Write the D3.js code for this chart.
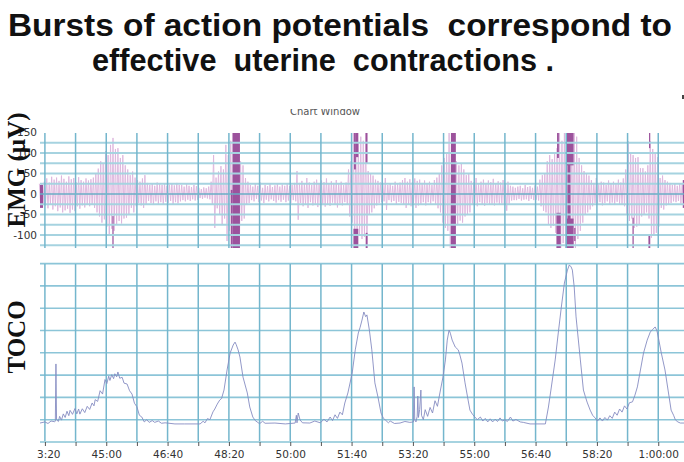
<!DOCTYPE html>
<html><head><meta charset="utf-8">
<script src="https://cdn.jsdelivr.net/npm/d3@7"></script>
<style>
html,body{margin:0;padding:0;background:#fff;}
svg{display:block;}
</style></head><body>
<svg id="c" width="684" height="462"></svg>
<script>
// ---------- DATA ----------
const titleLines = ["Bursts of action potentials  correspond to", "effective  uterine  contractions ."];
const panelLabels = ["EMG (\u00b5V)", "TOCO"];
const subTitle = "Chart Window";
const timeDomain = [2592, 3642];           // seconds
const xLabelSeconds = [2600, 2700, 2800, 2900, 3000, 3100, 3200, 3300, 3400, 3500, 3600];
const xGridSeconds = [2600, 2650, 2700, 2750, 2800, 2850, 2900, 2950, 3000, 3050, 3100, 3150, 3200, 3250, 3300, 3350, 3400, 3450, 3500, 3550, 3600];
const emgDomain = [-132, 149];
const emgTickValues = [150, 100, 50, 0, -50, -100];
const emgGridValues = [-125, -100, -75, -50, -25, 0, 25, 50, 75, 100, 125];
const tocoDomain = [0, 80];
const tocoGridValues = [10, 20, 30, 40, 50, 60, 70, 80];

// EMG envelope samples (uV), one every 4 s starting at 2592 s
const emgStart = 2592, emgStep = 4;
const emgHi = [
25,25,
30,38,28,42,35,40,32,45,37,30,43,36,39,28,41,34,30,38,33,36,40,
50,62,80,75,
105,95,120,137,110,
112,88,95,70,
60,46,55,40,
34,30,38,46,
27,22,25,20,28,24,22,26,20,23,25,21,27,22,
22,18,24,20,17,22,19,
15,12,16,14,18,
30,95,40,55,68,60,
120,95,130,
150,150,150,
80,70,
39,30,
22,18,25,20,28,15,22,19,24,17,21,26,18,23,20,25,19,22,27,
56,
27,32,24,39,28,22,30,35,26,33,29,38,25,31,27,34,24,30,22,28,
60,80,
150,130,125,140,130,150,
56,50,45,35,
32,28,25,39,
22,26,20,30,24,28,34,
39,30,36,28,38,32,35,27,33,
25,30,22,34,40,50,
70,88,100,
150,150,150,
80,70,75,60,46,50,
32,28,39,25,30,35,27,33,29,37,26,31,28,34,25,30,20,18,
15,18,20,14,22,17,19,15,21,18,
35,46,50,
80,95,85,100,
112,150,130,150,
150,150,150,150,140,
88,70,
56,50,45,34,
27,39,24,30,28,22,33,26,30,24,35,28,38,
60,129,100,
95,88,90,63,
63,55,70,
129,110,100,90,
39,45,34,30,
27,22,25,20,26,24
];
const emgLo = [
-25,-25,
-28,-35,-25,-38,-30,-42,-33,-45,-40,-36,-46,-38,-42,-30,-36,-28,-33,-25,-30,-27,-34,
-45,-55,-70,-62,
-80,-100,-85,-90,-75,
-66,-72,-60,-58,
-50,-34,-45,-30,
-22,-28,-34,-25,
-17,-22,-27,-18,-24,-20,-26,-19,-22,-17,-25,-20,-23,-18,
-15,-18,-14,-17,-13,-16,-14,
-10,-12,-9,-11,-13,
-25,-83,-35,-50,-76,-60,
-115,-90,-125,
-135,-135,-135,
-66,-60,
-27,-22,
-15,-18,-12,-20,-16,-22,-14,-18,-13,-17,-21,-15,-19,-14,-20,-16,-23,-15,-18,
-63,
-22,-30,-25,-34,-20,-28,-24,-32,-22,-27,-31,-25,-29,-21,-26,-33,-23,-28,-20,-25,
-55,-70,
-135,-107,-100,-110,-105,-135,
-51,-45,-35,-28,
-22,-20,-18,-39,
-15,-20,-17,-24,-19,-22,-27,
-34,-25,-30,-22,-34,-28,-26,-20,-28,
-20,-24,-18,-27,-35,-45,
-70,-83,-90,
-135,-135,-135,
-76,-65,-70,-55,-51,-45,
-27,-22,-30,-20,-25,-29,-22,-26,-24,-28,-21,-27,-23,-26,-41,-24,-16,-15,
-15,-12,-16,-14,-13,-17,-12,-15,-14,-16,
-30,-41,-45,
-75,-83,-78,-95,
-127,-135,-120,-135,
-135,-135,-135,-135,-110,
-90,-70,
-51,-45,-38,-30,
-22,-25,-20,-28,-22,-18,-25,-21,-27,-19,-24,-26,-30,
-50,-66,-60,
-83,-80,-75,-55,
-51,-45,-60,
-107,-100,-95,-80,
-34,-38,-28,-25,
-22,-18,-20,-17,-23,-20
];
// saturated EMG segments: [tStart, tEnd, low uV, high uV]
const emgDark = [
[2592,2597,-34,22],[2710,2712,-132,-54],
[2903,2906,-132,10],[2906,2918,-132,149],
[3104,3107,60,149],[3107,3111,90,149],[3103,3111,-132,-85],
[3123,3126,75,149],[3123,3126,-132,-95],
[3262,3270,-132,149],
[3435,3438,88,149],[3434,3441,-132,-46],
[3451,3462,70,149],[3452,3457,-132,149],[3450,3462,-132,-60],[3463,3465,-115,-83],
[3558,3560,-132,-58],
[3585,3587,112,149],[3584,3587,-132,-100],
[3640,3643,-34,34]
];
// TOCO trace: [seconds, value]
const toco = [
[2592,8.5],[2600,9.0],[2605,8.3],[2610,9.4],[2616,9.1],[2617,9.3],[2618,35],[2619,10],[2622,9.2],[2624,11.5],
[2627,9.8],[2630,12.6],[2633,11.0],[2636,13.8],[2639,11.8],[2641,14.2],[2645,12.4],[2649,15.0],[2652,12.6],[2655,14.8],
[2657,12.5],[2661,14.9],[2665,13.2],[2669,16.0],[2673,14.6],[2677,17.5],[2680,16.2],[2682,19.0],[2686,18.2],[2690,23.0],
[2694,21.5],[2698,28.0],[2701,26.2],[2704,29.5],[2706,27.6],[2709,30.2],[2712,28.4],[2714,30.6],[2717,29.2],[2719,31.4],
[2722,28.6],[2726,29.0],[2729,26.4],[2734,26.0],[2738,23.0],[2742,21.5],[2746,17.4],[2750,15.8],[2754,12.0],[2758,11.2],
[2762,9.0],[2766,10.0],[2770,8.8],[2775,9.6],[2779,8.8],[2785,9.4],[2790,8.4],[2796,8.6],[2812,8.1],[2828,8.1],
[2853,8.1],[2858,9.3],[2861,8.6],[2865,10.5],[2869,10.0],[2874,13.5],[2877,14.8],[2881,17.0],[2885,18.8],[2888,19.5],
[2892,23.3],[2897,32.3],[2902,39.9],[2907,43.5],[2910,44.8],[2912,43.6],[2915,41.3],[2918,38.1],[2923,29.1],[2930,22.0],
[2934,15.7],[2939,11.2],[2943,9.6],[2946,9.0],[2950,8.2],[2955,9.3],[2959,8.4],[2975,8.5],[2992,8.1],[3008,8.5],
[3010,12],[3011,8.6],[3013,13],[3016,9.9],[3020,8.6],[3032,8.5],[3040,9.4],[3049,8.6],[3055,10.2],[3060,9.0],
[3065,11.2],[3069,9.6],[3073,12.2],[3077,10.6],[3081,13.4],[3085,12.2],[3089,17.5],[3094,22.0],[3101,30.9],[3106,41.3],
[3111,48.9],[3114,51.5],[3117,54.7],[3120,58.3],[3123,56.2],[3125,57.0],[3129,50.2],[3133,41.3],[3138,26.5],[3143,20.2],
[3148,13.0],[3152,10.6],[3155,9.9],[3160,8.6],[3163,9.4],[3170,8.3],[3179,8.5],[3187,9.2],[3195,8.8],[3201,9],
[3202,24.7],[3203,10],[3205,9.0],[3207,11.5],[3208,20.6],[3209,11],[3211,14.5],[3213,23.3],[3214,12],[3217,10.0],
[3220,14.5],[3224,11.5],[3228,15.5],[3232,13.0],[3236,18.5],[3240,16.0],[3244,22.0],[3249,29.1],[3253,36.8],[3256,45.7],
[3259,50.2],[3261,48.8],[3264,45.7],[3269,42.6],[3274,41.3],[3277,38.6],[3280,35.4],[3285,26.5],[3290,18.8],[3293,14.3],
[3297,12.5],[3301,11.2],[3305,10.0],[3310,11.2],[3314,9.4],[3318,10.6],[3322,9.0],[3326,10.4],[3330,9.0],[3334,10.2],
[3338,9.2],[3342,10.8],[3346,9.4],[3350,10.0],[3354,9.2],[3359,11.2],[3363,9.4],[3368,10.1],[3375,9.0],[3380,8.8],
[3391,8.1],[3416,8.1],[3421,15.7],[3425,23.3],[3432,36.8],[3437,48.9],[3442,60.5],[3447,71.3],[3452,77.1],[3455,79.4],
[3458,78.5],[3460,77.1],[3463,69.5],[3466,56.1],[3473,36.8],[3478,23.3],[3481,20.5],[3484,17.9],[3489,14.3],[3493,12.0],
[3497,10.8],[3501,9.4],[3505,10.8],[3509,9.4],[3513,11.0],[3517,9.8],[3521,11.8],[3525,10.6],[3529,13.4],[3533,12.0],
[3537,14.8],[3541,13.4],[3545,16.2],[3549,14.8],[3553,17.6],[3558,18.0],[3562,21.0],[3566,24.7],[3571,32.3],[3576,39.9],
[3582,45.7],[3587,49.3],[3591,50.5],[3595,51.6],[3598,49.8],[3600,47.1],[3605,39.9],[3611,32.3],[3616,23.3],[3621,14.3],
[3625,12.0],[3628,9.9],[3632,9.0],[3636,8.5],[3642,8.5]
];

// ---------- DRAW ----------
const svg = d3.select("#c");
const W = 684;
const x = d3.scaleLinear().domain(timeDomain).range([40, 684]);
const yE = d3.scaleLinear().domain(emgDomain).range([248, 133]);
const yT = d3.scaleLinear().domain(tocoDomain).range([442, 263.6]);

function fmt(s){
  const h = Math.floor(s/3600), m = Math.floor((s%3600)/60), ss = s%60;
  const p = v => String(v).padStart(2,"0");
  return h > 0 ? h + ":" + p(m) + ":" + p(ss) : m + ":" + p(ss);
}

// title
svg.append("text").attr("x", 8).attr("y", 36).attr("textLength", 664).attr("lengthAdjust","spacingAndGlyphs")
  .style("white-space","pre").attr("font-family","Liberation Sans, Arial, sans-serif").attr("font-weight","bold")
  .attr("font-size", 31).attr("fill","#111").text(titleLines[0]);
svg.append("text").attr("x", 92).attr("y", 71).attr("textLength", 462).attr("lengthAdjust","spacingAndGlyphs")
  .style("white-space","pre").attr("font-family","Liberation Sans, Arial, sans-serif").attr("font-weight","bold")
  .attr("font-size", 31).attr("fill","#111").text(titleLines[1]);

// clip paths
const defs = svg.append("defs");
defs.append("clipPath").attr("id","cw").append("rect").attr("x",0).attr("y",109).attr("width",W).attr("height",20);
defs.append("clipPath").attr("id","xa").append("rect").attr("x",37).attr("y",438).attr("width",W).attr("height",30);
svg.append("text").attr("clip-path","url(#cw)").attr("x", 325).attr("y", 115).attr("text-anchor","middle")
  .attr("font-family","DejaVu Sans, sans-serif").attr("font-size", 10).attr("fill","#555").text(subTitle);
svg.append("rect").attr("x",682).attr("y",95).attr("width",2).attr("height",4).attr("fill","#444");

// ----- EMG panel -----
const emgG = svg.append("g");
const pts = [];
const n = Math.min(emgHi.length, emgLo.length);
for (let i = 0; i < n; i++){
  const t = emgStart + i*emgStep;
  pts.push([x(t) - 0.6, yE(Math.min(emgHi[i], emgDomain[1]))]);
  pts.push([x(t) + 0.6, yE(Math.max(emgLo[i], emgDomain[0]))]);
}
emgG.append("path").attr("d", d3.line()(pts)).attr("fill","none").attr("stroke","#dcb4dc").attr("stroke-width",0.9);
emgG.selectAll("rect.dk").data(emgDark).join("rect")
  .attr("x", d => x(d[0])).attr("width", d => Math.max(1.2, x(d[1]) - x(d[0])))
  .attr("y", d => yE(Math.min(d[3], emgDomain[1]))).attr("height", d => yE(Math.max(d[2], emgDomain[0])) - yE(Math.min(d[3], emgDomain[1])))
  .attr("fill","#9c529c");
emgG.selectAll("line.h").data(emgGridValues).join("line")
  .attr("x1",40).attr("x2",W).attr("y1", d=>yE(d)).attr("y2", d=>yE(d))
  .attr("stroke", d => d===0 ? "#6aaec6" : "#a6d3e0").attr("stroke-width", d => d===0 ? 1.6 : 2);
emgG.selectAll("line.v").data(xGridSeconds).join("line")
  .attr("x1", d=>x(d)).attr("x2", d=>x(d)).attr("y1",133).attr("y2",248)
  .attr("stroke","#74b6cd").attr("stroke-width",1.5);
emgG.selectAll("text.yl").data(emgTickValues).join("text")
  .attr("x", 37).attr("y", d => yE(d)).attr("dy","0.35em").attr("text-anchor","end")
  .attr("font-family","DejaVu Sans, sans-serif").attr("font-size",10.5).attr("fill","#333").text(d=>d);

// ----- TOCO panel -----
const tG = svg.append("g");
tG.selectAll("line.h").data(tocoGridValues).join("line")
  .attr("x1",40).attr("x2",W).attr("y1", d=>yT(d)).attr("y2", d=>yT(d))
  .attr("stroke","#8cc5d8").attr("stroke-width",1.6);
tG.selectAll("line.v").data(xGridSeconds).join("line")
  .attr("x1", d=>x(d)).attr("x2", d=>x(d)).attr("y1",264).attr("y2",442)
  .attr("stroke","#74b6cd").attr("stroke-width",1.5);
tG.append("path").datum(toco)
  .attr("d", d3.line().x(d=>x(d[0])).y(d=>yT(d[1])))
  .attr("fill","none").attr("stroke","#868cc2").attr("stroke-width",0.9);

// x axis (outer group holds the clip in page coordinates)
const xaOuter = svg.append("g").attr("clip-path","url(#xa)");
const xAxis = d3.axisBottom(x).tickValues(xGridSeconds).tickSize(4)
  .tickFormat(d => xLabelSeconds.includes(d) ? fmt(d) : "");
const ax = xaOuter.append("g").attr("transform","translate(0,442)").call(xAxis);
ax.select(".domain").attr("stroke","#a6d3e0").attr("stroke-width",2).attr("d","M40,0H684");
ax.selectAll(".tick line").attr("stroke","#555").attr("stroke-width",1);
ax.selectAll(".tick text").attr("font-family","DejaVu Sans, sans-serif").attr("font-size",10.5).attr("fill","#333").attr("dy","0.9em");

// panel labels
svg.append("text").attr("transform","translate(25,170) rotate(-90)").attr("text-anchor","middle")
  .attr("font-family","Liberation Serif, Times New Roman, serif").attr("font-weight","bold").attr("font-size",25)
  .attr("fill","#111").text(panelLabels[0]);
svg.append("text").attr("transform","translate(25,337) rotate(-90)").attr("text-anchor","middle")
  .attr("font-family","Liberation Serif, Times New Roman, serif").attr("font-weight","bold").attr("font-size",25)
  .attr("fill","#111").text(panelLabels[1]);
</script>
</body></html>
